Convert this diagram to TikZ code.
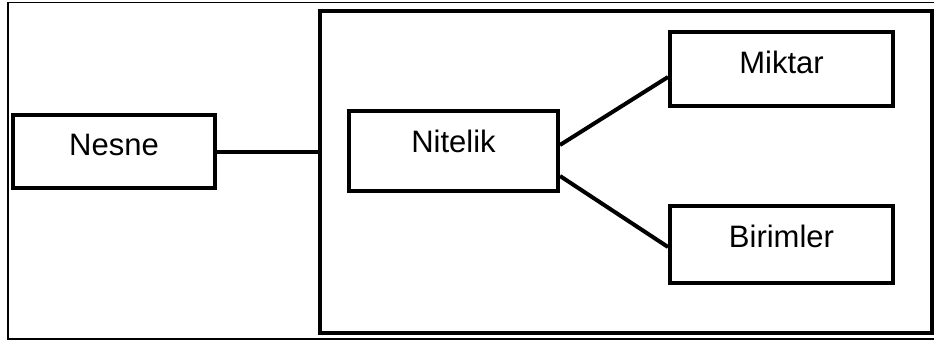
\documentclass[tikz,border=0pt]{standalone}
\usepackage{fontspec}
\setmainfont{Liberation Sans}
\begin{document}
\begin{tikzpicture}[x=1pt,y=1pt,
  box/.style={draw,line width=4pt,rectangle,inner sep=0pt,
    font=\fontsize{31}{31}\selectfont,text height=22.2pt,text depth=14pt},
  link/.style={line width=4pt}]
\useasboundingbox (0,0) rectangle (934,-340);
\fill[white] (0,0) rectangle (934,-340);
\draw[line width=1.5pt] (8,-2.5) rectangle (940,-339);
\node[draw,line width=4pt,rectangle,inner sep=0pt,minimum width=612pt,minimum height=322pt] (grp) at (626,-172) {};
\node[box,minimum width=202pt,minimum height=73pt] (nesne) at (114,-151.5) {Nesne};
\node[box,minimum width=209pt,minimum height=80pt,text depth=20pt] (nit) at (453.5,-151) {Nitelik};
\node[box,minimum width=223pt,minimum height=74pt,text depth=13pt] (mik) at (781.5,-69) {Miktar};
\node[box,minimum width=223pt,minimum height=77pt,text depth=17pt] (bir) at (781.5,-244.5) {Birimler};
\draw[link] (nesne.east) -- (nesne.east -| grp.west);
\draw[link] ([yshift=6pt]nit.east) -- ([yshift=-8pt]mik.west);
\draw[link] ([yshift=-25pt]nit.east) -- ([yshift=-2.5pt]bir.west);
\end{tikzpicture}
\end{document}
